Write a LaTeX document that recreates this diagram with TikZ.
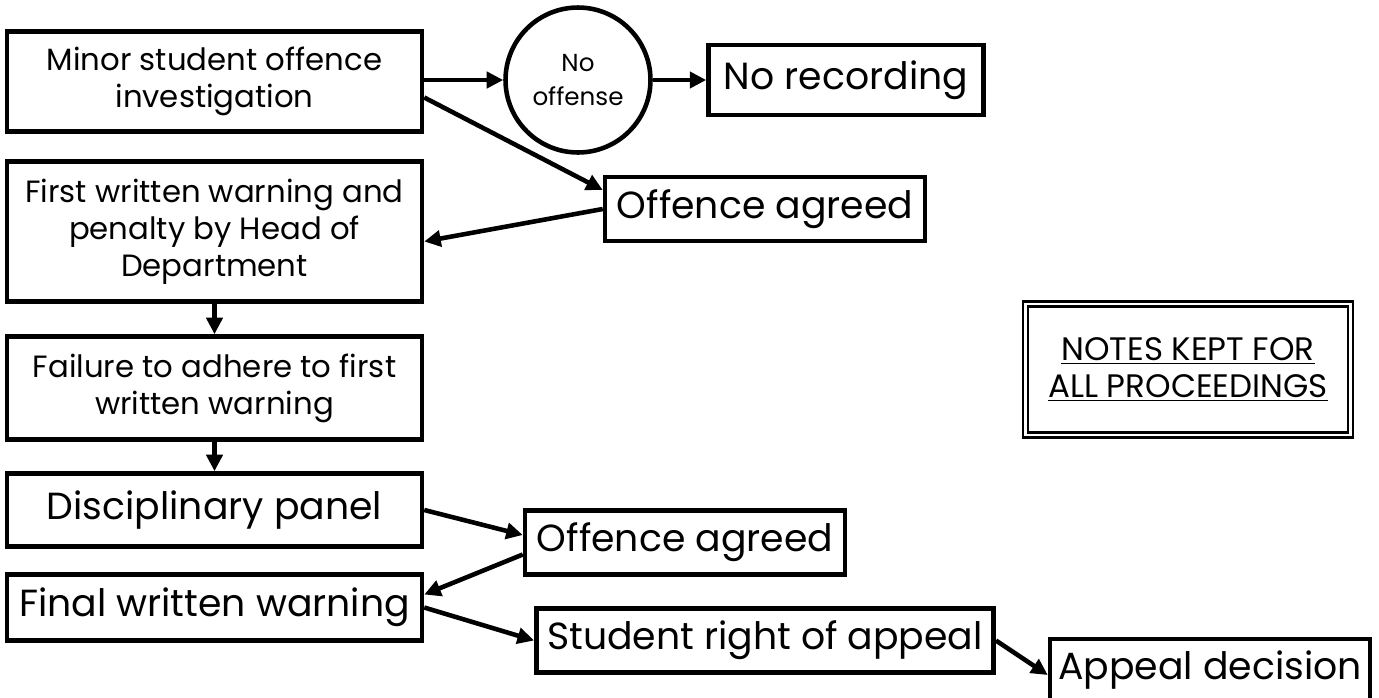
\documentclass[tikz,border=0pt]{standalone}
\usepackage{fontspec}
\setmainfont{Poppins}
\usepackage{tikz}
\usetikzlibrary{positioning,shapes,arrows.meta,calc}

\begin{document}
\begin{tikzpicture}[
    x=0.02cm,
    y=-0.02cm,
    block/.style={
        rectangle,
        draw=black,
        line width=2.6pt,
        minimum width=8.3cm,
        text centered,
        align=center,
        inner sep=2pt,
        font=\fontsize{17.5}{21}\selectfont
    },
    bigblock/.style={
        block,
        minimum width=6.4cm,
        minimum height=1.28cm,
        font=\fontsize{21.5}{25}\selectfont
    },
    decision/.style={
        circle,
        draw=black,
        line width=2.6pt,
        minimum size=2.9cm,
        align=center,
        inner sep=0pt,
        font=\fontsize{14}{19}\selectfont
    },
    notebox/.style={
        rectangle,
        draw=black,
        line width=1.6pt,
        double,
        double distance=1.3pt,
        minimum width=6.5cm,
        minimum height=2.62cm,
        align=center,
        font=\fontsize{18.5}{21.5}\selectfont
    },
    line/.style={draw, line width=2.6pt, -{Triangle[length=0.33cm,width=0.32cm]}}
]
    \useasboundingbox (0,0) rectangle (1379,697);

    % Investigation
    \node[block, minimum height=2.0cm] (minor) at (214.5,81.5) {Minor student offence\\investigation};
    \node[decision] (nooff) at (578,80) {No\\offense};
    \node[bigblock, minimum width=5.5cm, minimum height=1.4cm] (norec) at (846,80) {No recording};
    \node[bigblock] (agreed) at (765,209) {Offence agreed};

    % Warnings
    \node[block, minimum height=2.8cm] (first) at (214.5,231.5) {First written warning and\\penalty by Head of\\Department};
    \node[block, minimum height=2.06cm] (fail) at (214.5,388) {Failure to adhere to first\\written warning};
    \node[block, minimum height=1.46cm, font=\fontsize{21.5}{25}\selectfont] (panel) at (214.5,510) {Disciplinary panel};
    \node[block, minimum height=1.32cm, font=\fontsize{21.5}{25}\selectfont] (final) at (214.5,607.5) {Final written warning};

    % Panel outcome and appeal
    \node[bigblock] (agreedb) at (685,542.5) {Offence agreed};
    \node[bigblock, minimum width=9.15cm] (appealright) at (765,640.5) {Student right of appeal};
    \node[bigblock, minimum height=1.24cm] (decision) at (1210,670) {Appeal decision};

    % Notes
    \node[notebox] (notes) at (1188,369.5) {\underline{NOTES KEPT FOR}\\\underline{ALL PROCEEDINGS}};

    % Connections
    \draw[line] (minor.east |- nooff.west) -- (nooff.west);
    \draw[line] (nooff.east) -- (norec.west);
    \draw[line] ([yshift=-0.32cm]minor.east) -- ([yshift=0.38cm]agreed.west);
    \draw[line] (agreed.west) -- ([yshift=-0.2cm]first.east);
    \draw[line] (first) -- (fail);
    \draw[line] (fail) -- (panel);
    \draw[line] (panel.east) -- ([yshift=0.15cm]agreedb.west);
    \draw[line] ([yshift=-0.24cm]agreedb.west) -- ([yshift=0.26cm]final.east);
    \draw[line] (final.east) -- (appealright.west);
    \draw[line] (appealright.east) -- ([yshift=-0.1cm]decision.west);
\end{tikzpicture}
\end{document}
